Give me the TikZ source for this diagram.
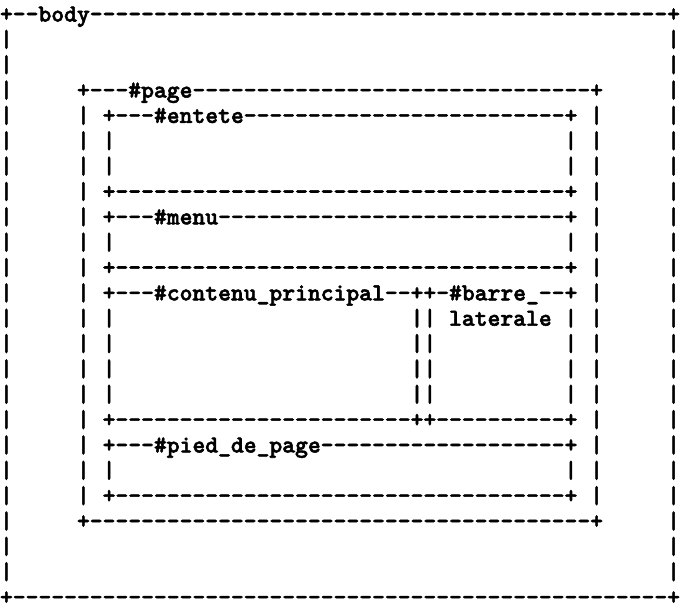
\documentclass[tikz,border=0pt]{standalone}
\usepackage{fontspec}
\newfontfamily\lmmbold{lmmonolt10-bold.otf}[FakeBold=2.2]
\newcommand\dsh[1]{\foreach\dshi in {1,...,#1}{-}}
\newcommand\asc[4]{\node[txt] (#1) at ({#2*12.8302},{-21.5-#3*25.35}) {#4};}
% outer bars only
\newcommand\barsout[1]{\asc{r#1c0}{0}{#1}{|}\asc{r#1c52}{52}{#1}{|}}
% bars of body and page
\newcommand\barspage[1]{\barsout{#1}\asc{r#1c6}{6}{#1}{|}\asc{r#1c46}{46}{#1}{|}}
% bars of body, page and inner box
\newcommand\barsinner[1]{\barspage{#1}\asc{r#1c8}{8}{#1}{|}\asc{r#1c44}{44}{#1}{|}}
\begin{document}
\begin{tikzpicture}[x=1pt,y=1pt,
  txt/.style={anchor=base west, inner sep=0pt, outer sep=0pt,
    font=\fontsize{24.44}{25}\selectfont\lmmbold}]
\useasboundingbox (0,0) rectangle (680,-607);
% body top
\asc{r0}{0}{0}{+\dsh{2}body\dsh{45}+}
\barsout{1}
\barsout{2}
% page top
\barsout{3}
\asc{r3c6}{6}{3}{+\dsh{3}\#page\dsh{31}+}
% entete
\barspage{4}
\asc{r4c8}{8}{4}{+\dsh{3}\#entete\dsh{25}+}
\barsinner{5}
\barsinner{6}
\barspage{7}
\asc{r7c8}{8}{7}{+\dsh{35}+}
% menu
\barspage{8}
\asc{r8c8}{8}{8}{+\dsh{3}\#menu\dsh{27}+}
\barsinner{9}
\barspage{10}
\asc{r10c8}{8}{10}{+\dsh{35}+}
% contenu principal / barre laterale
\barspage{11}
\asc{r11c8}{8}{11}{+\dsh{3}\#contenu\_principal\dsh{2}++\dsh{1}\#barre\_\dsh{2}+}
\barsinner{12}
\asc{r12c32}{32}{12}{||}
\asc{r12c35}{35}{12}{laterale}
\barsinner{13}
\asc{r13c32}{32}{13}{||}
\barsinner{14}
\asc{r14c32}{32}{14}{||}
\barsinner{15}
\asc{r15c32}{32}{15}{||}
\barspage{16}
\asc{r16c8}{8}{16}{+\dsh{23}++\dsh{10}+}
% pied de page
\barspage{17}
\asc{r17c8}{8}{17}{+\dsh{3}\#pied\_de\_page\dsh{19}+}
\barsinner{18}
\barspage{19}
\asc{r19c8}{8}{19}{+\dsh{35}+}
% page bottom
\barsout{20}
\asc{r20c6}{6}{20}{+\dsh{39}+}
\barsout{21}
\barsout{22}
% body bottom
\asc{r23}{0}{23}{+\dsh{51}+}
\end{tikzpicture}
\end{document}
